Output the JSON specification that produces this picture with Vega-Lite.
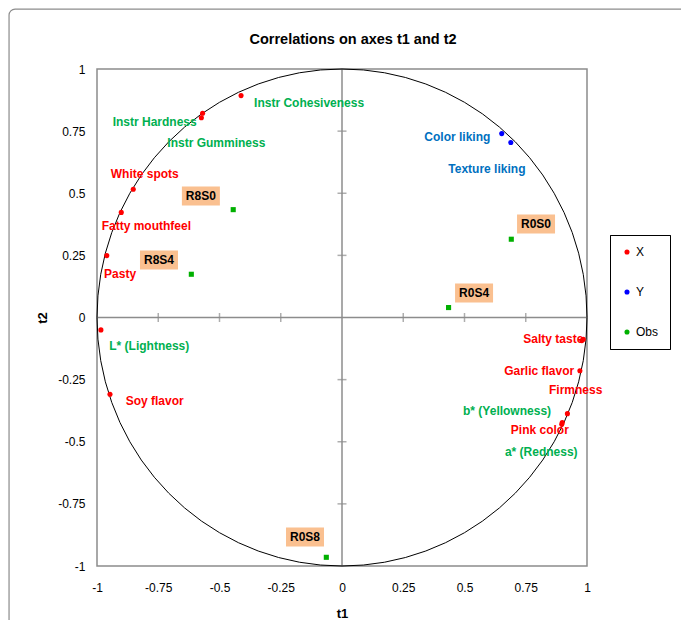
{
  "$schema": "https://vega.github.io/schema/vega-lite/v6.json",
  "width": 490,
  "height": 497,
  "autosize": {"type": "none"},
  "padding": {"left": 97, "top": 69, "right": 94, "bottom": 54},
  "background": "white",
  "config": {
    "view": {"stroke": "#8C8C8C", "strokeWidth": 1.5},
    "font": "Liberation Sans",
    "axis": {"ticks": false, "domain": false, "grid": false, "labelFlush": false, "labelOverlap": false, "labelFont": "Liberation Sans", "labelFontSize": 12, "labelColor": "black", "titleFont": "Liberation Sans", "titleFontSize": 13, "titleFontWeight": "bold", "titleColor": "black"},
    "axisX": {"labelPadding": 16, "titlePadding": 14},
    "axisY": {"labelPadding": 12, "titlePadding": 8}
  },
  "title": {"text": "Correlations on axes t1 and t2", "font": "Liberation Sans", "fontSize": 14.5, "fontWeight": "bold", "color": "black", "anchor": "middle", "frame": "group", "offset": -39, "dx": 11},
  "datasets": {
    "pts": [
      {"name": "Instr Cohesiveness", "series": "X", "kind": "Instrumental", "t1": -0.412, "t2": 0.893, "lx": -0.359, "ly": 0.862},
      {"name": "Instr Hardness", "series": "X", "kind": "Instrumental", "t1": -0.569, "t2": 0.822, "lx": -0.936, "ly": 0.788},
      {"name": "Instr  Gumminess", "series": "X", "kind": "Instrumental", "t1": -0.574, "t2": 0.804, "lx": -0.713, "ly": 0.701},
      {"name": "White spots", "series": "X", "kind": "Sensory", "t1": -0.852, "t2": 0.516, "lx": -0.944, "ly": 0.579},
      {"name": "Fatty mouthfeel", "series": "X", "kind": "Sensory", "t1": -0.901, "t2": 0.423, "lx": -0.981, "ly": 0.368},
      {"name": "Pasty", "series": "X", "kind": "Sensory", "t1": -0.96, "t2": 0.249, "lx": -0.971, "ly": 0.175},
      {"name": "L* (Lightness)", "series": "X", "kind": "Instrumental", "t1": -0.984, "t2": -0.05, "lx": -0.95, "ly": -0.115},
      {"name": "Soy flavor", "series": "X", "kind": "Sensory", "t1": -0.947, "t2": -0.309, "lx": -0.883, "ly": -0.335},
      {"name": "Salty taste", "series": "X", "kind": "Sensory", "t1": 0.985, "t2": -0.088, "lx": 0.74, "ly": -0.088},
      {"name": "Firmness", "series": "X", "kind": "Sensory", "t1": 0.979, "t2": -0.093, "lx": 0.845, "ly": -0.292},
      {"name": "Garlic flavor", "series": "X", "kind": "Sensory", "t1": 0.971, "t2": -0.214, "lx": 0.662, "ly": -0.214},
      {"name": "b* (Yellowness)", "series": "X", "kind": "Instrumental", "t1": 0.92, "t2": -0.387, "lx": 0.494, "ly": -0.376},
      {"name": "Pink color", "series": "X", "kind": "Sensory", "t1": 0.899, "t2": -0.423, "lx": 0.689, "ly": -0.453},
      {"name": "a* (Redness)", "series": "X", "kind": "Instrumental", "t1": 0.897, "t2": -0.43, "lx": 0.665, "ly": -0.541},
      {"name": "Color liking", "series": "Y", "kind": "Liking", "t1": 0.652, "t2": 0.74, "lx": 0.336, "ly": 0.728},
      {"name": "Texture liking", "series": "Y", "kind": "Liking", "t1": 0.689, "t2": 0.704, "lx": 0.434, "ly": 0.596},
      {"name": "R8S0", "series": "Obs", "kind": "Obs", "t1": -0.444, "t2": 0.434, "lx": -0.576, "ly": 0.489},
      {"name": "R8S4", "series": "Obs", "kind": "Obs", "t1": -0.615, "t2": 0.174, "lx": -0.747, "ly": 0.231},
      {"name": "R0S0", "series": "Obs", "kind": "Obs", "t1": 0.691, "t2": 0.315, "lx": 0.792, "ly": 0.376},
      {"name": "R0S4", "series": "Obs", "kind": "Obs", "t1": 0.435, "t2": 0.04, "lx": 0.539, "ly": 0.099},
      {"name": "R0S8", "series": "Obs", "kind": "Obs", "t1": -0.064, "t2": -0.965, "lx": -0.151, "ly": -0.883}
    ],
    "circle": [
      {"a":0,"x":1,"y":0},{"a":5,"x":0.9962,"y":0.0872},{"a":10,"x":0.9848,"y":0.1736},{"a":15,"x":0.9659,"y":0.2588},
      {"a":20,"x":0.9397,"y":0.342},{"a":25,"x":0.9063,"y":0.4226},{"a":30,"x":0.866,"y":0.5},{"a":35,"x":0.8192,"y":0.5736},
      {"a":40,"x":0.766,"y":0.6428},{"a":45,"x":0.7071,"y":0.7071},{"a":50,"x":0.6428,"y":0.766},{"a":55,"x":0.5736,"y":0.8192},
      {"a":60,"x":0.5,"y":0.866},{"a":65,"x":0.4226,"y":0.9063},{"a":70,"x":0.342,"y":0.9397},{"a":75,"x":0.2588,"y":0.9659},
      {"a":80,"x":0.1736,"y":0.9848},{"a":85,"x":0.0872,"y":0.9962},{"a":90,"x":0,"y":1},{"a":95,"x":-0.0872,"y":0.9962},
      {"a":100,"x":-0.1736,"y":0.9848},{"a":105,"x":-0.2588,"y":0.9659},{"a":110,"x":-0.342,"y":0.9397},{"a":115,"x":-0.4226,"y":0.9063},
      {"a":120,"x":-0.5,"y":0.866},{"a":125,"x":-0.5736,"y":0.8192},{"a":130,"x":-0.6428,"y":0.766},{"a":135,"x":-0.7071,"y":0.7071},
      {"a":140,"x":-0.766,"y":0.6428},{"a":145,"x":-0.8192,"y":0.5736},{"a":150,"x":-0.866,"y":0.5},{"a":155,"x":-0.9063,"y":0.4226},
      {"a":160,"x":-0.9397,"y":0.342},{"a":165,"x":-0.9659,"y":0.2588},{"a":170,"x":-0.9848,"y":0.1736},{"a":175,"x":-0.9962,"y":0.0872},
      {"a":180,"x":-1,"y":0},{"a":185,"x":-0.9962,"y":-0.0872},{"a":190,"x":-0.9848,"y":-0.1736},{"a":195,"x":-0.9659,"y":-0.2588},
      {"a":200,"x":-0.9397,"y":-0.342},{"a":205,"x":-0.9063,"y":-0.4226},{"a":210,"x":-0.866,"y":-0.5},{"a":215,"x":-0.8192,"y":-0.5736},
      {"a":220,"x":-0.766,"y":-0.6428},{"a":225,"x":-0.7071,"y":-0.7071},{"a":230,"x":-0.6428,"y":-0.766},{"a":235,"x":-0.5736,"y":-0.8192},
      {"a":240,"x":-0.5,"y":-0.866},{"a":245,"x":-0.4226,"y":-0.9063},{"a":250,"x":-0.342,"y":-0.9397},{"a":255,"x":-0.2588,"y":-0.9659},
      {"a":260,"x":-0.1736,"y":-0.9848},{"a":265,"x":-0.0872,"y":-0.9962},{"a":270,"x":0,"y":-1},{"a":275,"x":0.0872,"y":-0.9962},
      {"a":280,"x":0.1736,"y":-0.9848},{"a":285,"x":0.2588,"y":-0.9659},{"a":290,"x":0.342,"y":-0.9397},{"a":295,"x":0.4226,"y":-0.9063},
      {"a":300,"x":0.5,"y":-0.866},{"a":305,"x":0.5736,"y":-0.8192},{"a":310,"x":0.6428,"y":-0.766},{"a":315,"x":0.7071,"y":-0.7071},
      {"a":320,"x":0.766,"y":-0.6428},{"a":325,"x":0.8192,"y":-0.5736},{"a":330,"x":0.866,"y":-0.5},{"a":335,"x":0.9063,"y":-0.4226},
      {"a":340,"x":0.9397,"y":-0.342},{"a":345,"x":0.9659,"y":-0.2588},{"a":350,"x":0.9848,"y":-0.1736},{"a":355,"x":0.9962,"y":-0.0872},
      {"a":360,"x":1,"y":0}
    ],
    "ticks": [{"v": -0.75}, {"v": -0.5}, {"v": -0.25}, {"v": 0.25}, {"v": 0.5}, {"v": 0.75}]
  },
  "layer": [
    {
      "data": {"values": [{}]},
      "mark": {"type": "rect", "fill": null, "stroke": "#8C8C8C", "strokeWidth": 1.2, "cornerRadius": 6, "clip": false},
      "encoding": {
        "x": {"datum": -1.359, "type": "quantitative", "title": "t1", "scale": {"domain": [-1, 1], "nice": false, "zero": false}},
        "x2": {"datum": 1.6},
        "y": {"datum": 1.241, "type": "quantitative", "title": "t2", "scale": {"domain": [-1, 1], "nice": false, "zero": false}},
        "y2": {"datum": -1.4}
      }
    },
    {
      "data": {"values": [{}]},
      "mark": {"type": "rule", "stroke": "#8C8C8C", "strokeWidth": 1.5},
      "encoding": {"x": {"datum": 0, "type": "quantitative", "title": "t1", "scale": {"domain": [-1, 1], "nice": false, "zero": false}}}
    },
    {
      "data": {"values": [{}]},
      "mark": {"type": "rule", "stroke": "#8C8C8C", "strokeWidth": 1.5},
      "encoding": {"y": {"datum": 0, "type": "quantitative", "title": "t2", "scale": {"domain": [-1, 1], "nice": false, "zero": false}}}
    },
    {
      "data": {"name": "ticks"},
      "mark": {"type": "tick", "orient": "vertical", "size": 9, "thickness": 1.5, "color": "#8C8C8C"},
      "encoding": {
        "x": {"field": "v", "type": "quantitative", "title": "t1", "scale": {"domain": [-1, 1], "nice": false, "zero": false}},
        "y": {"datum": 0, "type": "quantitative", "title": "t2", "scale": {"domain": [-1, 1], "nice": false, "zero": false}}
      }
    },
    {
      "data": {"name": "ticks"},
      "mark": {"type": "tick", "orient": "horizontal", "size": 9, "thickness": 1.5, "color": "#8C8C8C"},
      "encoding": {
        "y": {"field": "v", "type": "quantitative", "title": "t2", "scale": {"domain": [-1, 1], "nice": false, "zero": false}},
        "x": {"datum": 0, "type": "quantitative", "title": "t1", "scale": {"domain": [-1, 1], "nice": false, "zero": false}}
      }
    },
    {
      "data": {"name": "circle"},
      "mark": {"type": "line", "stroke": "black", "strokeWidth": 1},
      "encoding": {
        "x": {"field": "x", "type": "quantitative", "title": "t1", "scale": {"domain": [-1, 1], "nice": false, "zero": false}},
        "y": {"field": "y", "type": "quantitative", "title": "t2", "scale": {"domain": [-1, 1], "nice": false, "zero": false}},
        "order": {"field": "a", "type": "quantitative"}
      }
    },
    {
      "data": {"name": "pts"},
      "transform": [{"filter": "datum.series === 'Obs'"}],
      "mark": {"type": "point", "shape": "M-1.9,-0.95H1.9V0.95H-1.9Z", "size": 400, "filled": true, "fill": "#FAC090", "opacity": 1, "strokeWidth": 0},
      "encoding": {
        "x": {"field": "lx", "type": "quantitative", "title": "t1", "scale": {"domain": [-1, 1], "nice": false, "zero": false}},
        "y": {"field": "ly", "type": "quantitative", "title": "t2", "scale": {"domain": [-1, 1], "nice": false, "zero": false}}
      }
    },
    {
      "data": {"name": "pts"},
      "transform": [{"filter": "datum.series === 'Obs'"}],
      "mark": {"type": "text", "align": "center", "baseline": "middle", "font": "Liberation Sans", "fontSize": 12, "fontWeight": "bold", "color": "black"},
      "encoding": {
        "x": {"field": "lx", "type": "quantitative", "title": "t1", "scale": {"domain": [-1, 1], "nice": false, "zero": false}},
        "y": {"field": "ly", "type": "quantitative", "title": "t2", "scale": {"domain": [-1, 1], "nice": false, "zero": false}},
        "text": {"field": "name"}
      }
    },
    {
      "data": {"name": "pts"},
      "transform": [{"filter": "datum.series !== 'Obs'"}],
      "mark": {"type": "text", "align": "left", "baseline": "middle", "font": "Liberation Sans", "fontSize": 12, "fontWeight": "bold"},
      "encoding": {
        "x": {"field": "lx", "type": "quantitative", "title": "t1", "scale": {"domain": [-1, 1], "nice": false, "zero": false}},
        "y": {"field": "ly", "type": "quantitative", "title": "t2", "scale": {"domain": [-1, 1], "nice": false, "zero": false}},
        "text": {"field": "name"},
        "color": {"field": "kind", "type": "nominal", "scale": {"domain": ["Sensory", "Instrumental", "Liking"], "range": ["#FF0000", "#00B050", "#0070C0"]}, "legend": null}
      }
    },
    {
      "data": {"name": "pts"},
      "mark": {"type": "point", "filled": true, "size": 26, "opacity": 1},
      "encoding": {
        "x": {"field": "t1", "type": "quantitative", "title": "t1", "scale": {"domain": [-1, 1], "nice": false, "zero": false},
          "axis": {"values": [-1, -0.75, -0.5, -0.25, 0, 0.25, 0.5, 0.75, 1], "labelExpr": "'' + datum.value"}},
        "y": {"field": "t2", "type": "quantitative", "title": "t2", "scale": {"domain": [-1, 1], "nice": false, "zero": false},
          "axis": {"values": [-1, -0.75, -0.5, -0.25, 0, 0.25, 0.5, 0.75, 1], "labelExpr": "'' + datum.value"}},
        "color": {"field": "series", "type": "nominal", "scale": {"domain": ["X", "Y", "Obs"], "range": ["#FF0000", "#0000FF", "#00B000"]},
          "legend": {"title": null, "orient": "none", "legendX": 513, "legendY": 166, "strokeColor": "black", "fillColor": "white", "padding": 11, "rowPadding": 28, "symbolSize": 26, "labelFont": "Liberation Sans", "labelFontSize": 12, "labelColor": "black", "labelOffset": 3}},
        "shape": {"field": "series", "type": "nominal", "scale": {"domain": ["X", "Y", "Obs"], "range": ["circle", "circle", "square"]},
          "legend": {"title": null, "orient": "none", "legendX": 513, "legendY": 166, "strokeColor": "black", "fillColor": "white", "padding": 11, "rowPadding": 28, "symbolSize": 26, "labelFont": "Liberation Sans", "labelFontSize": 12, "labelColor": "black", "labelOffset": 3}}
      }
    }
  ],
  "resolve": {"scale": {"color": "independent"}}
}
